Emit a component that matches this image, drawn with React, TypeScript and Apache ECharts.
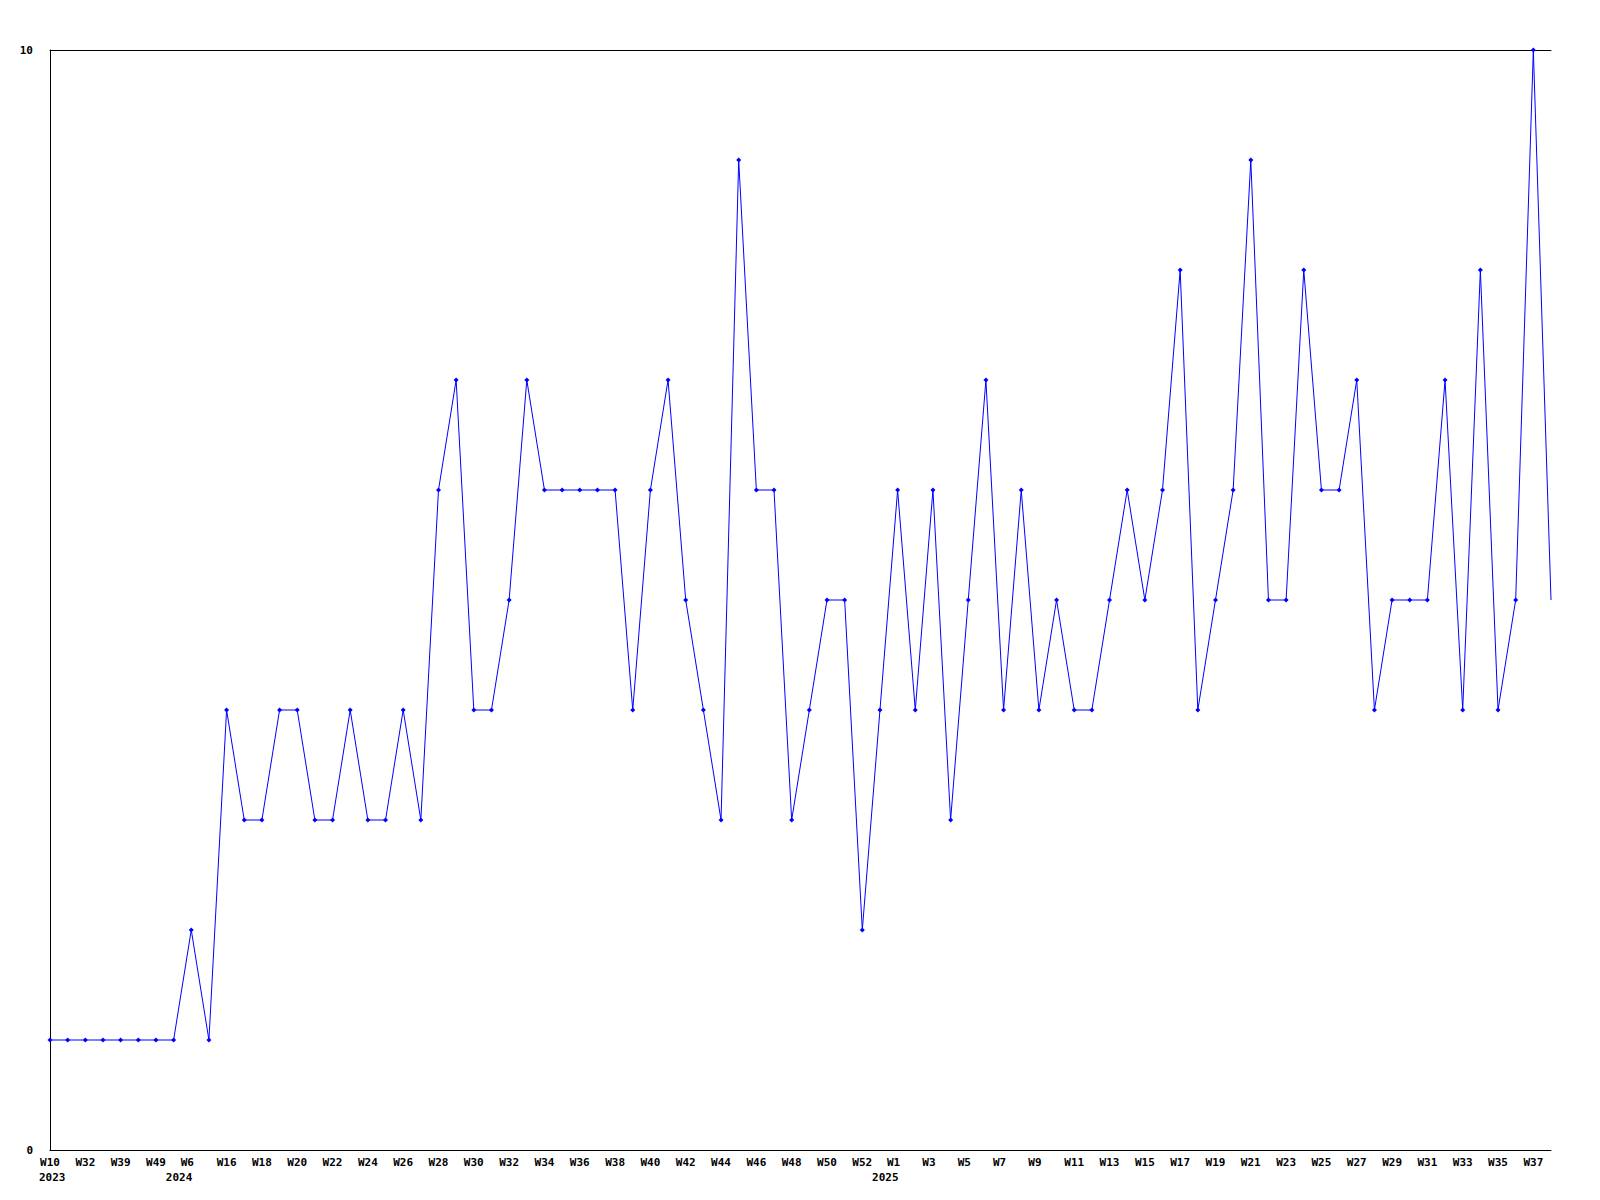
import React, { useEffect, useRef } from "react";
import * as echarts from "echarts";

const weeks: string[] = [
  "W10", "W31", "W32", "W35", "W39", "W44", "W49", "W52", "W6", "W15",
  "W16", "W17", "W18", "W19", "W20", "W21", "W22", "W23", "W24", "W25",
  "W26", "W27", "W28", "W29", "W30", "W31", "W32", "W33", "W34", "W35",
  "W36", "W37", "W38", "W39", "W40", "W41", "W42", "W43", "W44", "W45",
  "W46", "W47", "W48", "W49", "W50", "W51", "W52", "W53", "W1", "W2",
  "W3", "W4", "W5", "W6", "W7", "W8", "W9", "W10", "W11", "W12",
  "W13", "W14", "W15", "W16", "W17", "W18", "W19", "W20", "W21", "W22",
  "W23", "W24", "W25", "W26", "W27", "W28", "W29", "W30", "W31", "W32",
  "W33", "W34", "W35", "W36", "W37", "W38",
];

// year shown under the first labelled week of each year (category index -> year)
const yearIndices: number[] = [0, 8, 48];
const yearTexts: string[] = ["2023", "2024", "2025"];

const values: number[] = [
  1, 1, 1, 1, 1, 1, 1, 1, 2, 1,
  4, 3, 3, 4, 4, 3, 3, 4, 3, 3,
  4, 3, 6, 7, 4, 4, 5, 7, 6, 6,
  6, 6, 6, 4, 6, 7, 5, 4, 3, 9,
  6, 6, 3, 4, 5, 5, 2, 4, 6, 4,
  6, 3, 5, 7, 4, 6, 4, 5, 4, 4,
  5, 6, 5, 6, 8, 4, 5, 6, 9, 5,
  5, 8, 6, 6, 7, 4, 5, 5, 5, 7,
  4, 8, 4, 5, 10, 5,
];

const FONT = "'DejaVu Sans Mono', 'Liberation Mono', monospace";

export default function App() {
  const ref = useRef<HTMLDivElement>(null);

  useEffect(() => {
    document.body.style.margin = "0";
    if (!ref.current) return;
    const chart = echarts.init(ref.current, undefined, { renderer: "svg" });
    const seriesData = values.map((v, i) =>
      i === values.length - 1 ? { value: v, symbol: "none" } : v
    );
    chart.setOption({
      animation: false,
      backgroundColor: "#ffffff",
      grid: { left: 50, top: 50, right: 49, bottom: 50, containLabel: false },
      xAxis: [
        {
          type: "category",
          data: weeks,
          boundaryGap: false,
          axisLine: { show: true, lineStyle: { color: "#000", width: 1 } },
          axisTick: { show: false },
          splitLine: { show: false },
          axisLabel: {
            interval: 1,
            margin: 7,
            color: "#000",
            fontFamily: FONT,
            fontWeight: "bold",
            fontSize: 11,
            formatter: (v: string) => (v.length < 3 ? `{s|${v}}` : v),
            rich: {
              s: {
                color: "#000",
                fontFamily: FONT,
                fontWeight: "bold",
                fontSize: 11,
                padding: [0, 8, 0, 0],
              },
            },
          },
        },
        {
          type: "category",
          data: weeks,
          position: "top",
          boundaryGap: false,
          axisLine: { show: true, lineStyle: { color: "#000", width: 1 } },
          axisTick: { show: false },
          axisLabel: { show: false },
          splitLine: { show: false },
        },
      ],
      yAxis: {
        type: "value",
        min: 0,
        max: 10,
        interval: 10,
        axisLine: { show: true, lineStyle: { color: "#000", width: 1 } },
        axisTick: { show: false },
        splitLine: { show: false },
        axisLabel: {
          margin: 17,
          color: "#000",
          fontFamily: FONT,
          fontWeight: "bold",
          fontSize: 11,
        },
      },
      series: [
        {
          type: "line",
          data: seriesData,
          xAxisIndex: 0,
          symbol: "diamond",
          symbolSize: 5,
          lineStyle: { color: "#0000ff", width: 1 },
          itemStyle: { color: "#0000ff" },
          emphasis: { disabled: true },
        },
      ],
    });

    const baseY = chart.convertToPixel({ yAxisIndex: 0 }, 0) as number;
    const graphics = yearIndices.map((idx, k) => {
      const px = chart.convertToPixel({ xAxisIndex: 0 }, idx) as number;
      const first = k === 0;
      return {
        type: "text",
        x: first ? px - 11 : px + 1,
        y: baseY + 27,
        style: {
          text: yearTexts[k],
          fill: "#000",
          font: `bold 11px ${FONT}`,
          textAlign: first ? "left" : "right",
          textVerticalAlign: "middle",
        },
      };
    });
    chart.setOption({ graphic: graphics });

    return () => chart.dispose();
  }, []);

  return <div ref={ref} style={{ width: 1600, height: 1200 }} />;
}
